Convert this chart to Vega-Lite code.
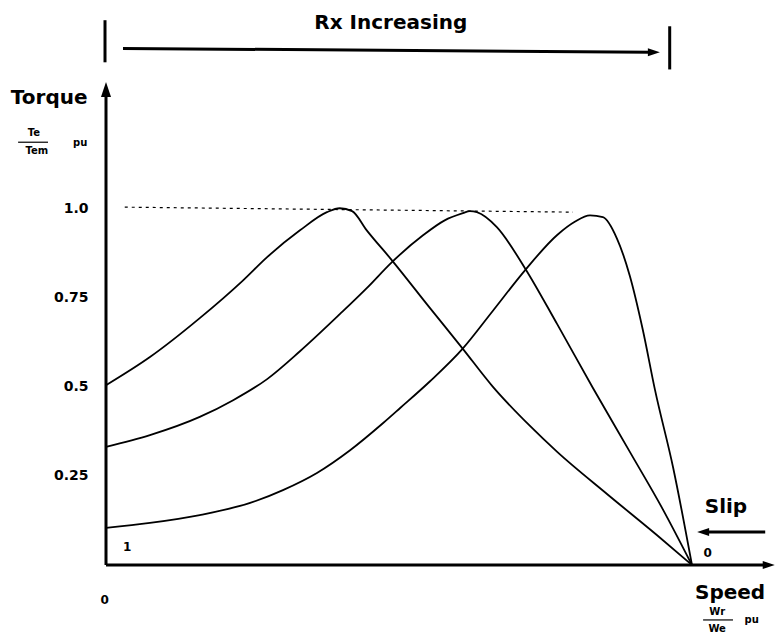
{
  "$schema": "https://vega.github.io/schema/vega-lite/v6.json",
  "width": 668,
  "height": 553,
  "autosize": {"type": "none"},
  "padding": {"left": 106, "right": 3, "top": 12, "bottom": 79},
  "background": "white",
  "config": {"view": {"stroke": null}, "axis": {"grid": false}},
  "datasets": {
    "curves": [
      {"curve": "A", "speed": 0, "torque": 0.504},
      {"curve": "A", "speed": 0.075, "torque": 0.583},
      {"curve": "A", "speed": 0.160, "torque": 0.692},
      {"curve": "A", "speed": 0.234, "torque": 0.798},
      {"curve": "A", "speed": 0.275, "torque": 0.863},
      {"curve": "A", "speed": 0.331, "torque": 0.938},
      {"curve": "A", "speed": 0.377, "torque": 0.989},
      {"curve": "A", "speed": 0.399, "torque": 1.0},
      {"curve": "A", "speed": 0.420, "torque": 0.992},
      {"curve": "A", "speed": 0.445, "torque": 0.938},
      {"curve": "A", "speed": 0.488, "torque": 0.854},
      {"curve": "A", "speed": 0.553, "torque": 0.720},
      {"curve": "A", "speed": 0.608, "torque": 0.608},
      {"curve": "A", "speed": 0.660, "torque": 0.500},
      {"curve": "A", "speed": 0.724, "torque": 0.389},
      {"curve": "A", "speed": 0.770, "torque": 0.317},
      {"curve": "A", "speed": 0.855, "torque": 0.199},
      {"curve": "A", "speed": 0.940, "torque": 0.084},
      {"curve": "A", "speed": 1.0, "torque": 0},
      {"curve": "B", "speed": 0, "torque": 0.331},
      {"curve": "B", "speed": 0.075, "torque": 0.364},
      {"curve": "B", "speed": 0.160, "torque": 0.415},
      {"curve": "B", "speed": 0.217, "torque": 0.462},
      {"curve": "B", "speed": 0.275, "torque": 0.521},
      {"curve": "B", "speed": 0.331, "torque": 0.599},
      {"curve": "B", "speed": 0.399, "torque": 0.703},
      {"curve": "B", "speed": 0.445, "torque": 0.776},
      {"curve": "B", "speed": 0.488, "torque": 0.849},
      {"curve": "B", "speed": 0.541, "torque": 0.924},
      {"curve": "B", "speed": 0.578, "torque": 0.966},
      {"curve": "B", "speed": 0.609, "torque": 0.986},
      {"curve": "B", "speed": 0.621, "torque": 0.992},
      {"curve": "B", "speed": 0.633, "torque": 0.989},
      {"curve": "B", "speed": 0.667, "torque": 0.947},
      {"curve": "B", "speed": 0.715, "torque": 0.832},
      {"curve": "B", "speed": 0.770, "torque": 0.675},
      {"curve": "B", "speed": 0.831, "torque": 0.496},
      {"curve": "B", "speed": 0.894, "torque": 0.317},
      {"curve": "B", "speed": 0.951, "torque": 0.154},
      {"curve": "B", "speed": 1.0, "torque": 0},
      {"curve": "C", "speed": 0, "torque": 0.104},
      {"curve": "C", "speed": 0.075, "torque": 0.118},
      {"curve": "C", "speed": 0.160, "torque": 0.140},
      {"curve": "C", "speed": 0.246, "torque": 0.174},
      {"curve": "C", "speed": 0.302, "torque": 0.210},
      {"curve": "C", "speed": 0.360, "torque": 0.258},
      {"curve": "C", "speed": 0.416, "torque": 0.321},
      {"curve": "C", "speed": 0.473, "torque": 0.398},
      {"curve": "C", "speed": 0.502, "torque": 0.440},
      {"curve": "C", "speed": 0.553, "torque": 0.515},
      {"curve": "C", "speed": 0.608, "torque": 0.605},
      {"curve": "C", "speed": 0.660, "torque": 0.712},
      {"curve": "C", "speed": 0.715, "torque": 0.826},
      {"curve": "C", "speed": 0.770, "torque": 0.925},
      {"curve": "C", "speed": 0.800, "torque": 0.962},
      {"curve": "C", "speed": 0.826, "torque": 0.980},
      {"curve": "C", "speed": 0.848, "torque": 0.975},
      {"curve": "C", "speed": 0.872, "torque": 0.915},
      {"curve": "C", "speed": 0.894, "torque": 0.810},
      {"curve": "C", "speed": 0.916, "torque": 0.660},
      {"curve": "C", "speed": 0.937, "torque": 0.490},
      {"curve": "C", "speed": 0.968, "torque": 0.272},
      {"curve": "C", "speed": 1.0, "torque": 0}
    ],
    "maxline": [
      {"speed": 0.032, "torque": 1.003},
      {"speed": 0.797, "torque": 0.989}
    ],
    "segs": [
      {"part": "y axis", "speed": 0, "torque": 0, "speed2": 0, "torque2": 1.315},
      {"part": "x axis", "speed": 0, "torque": 0, "speed2": 1.128, "torque2": 0},
      {"part": "rx arrow", "speed": 0.029, "torque": 1.448, "speed2": 0.93, "torque2": 1.437},
      {"part": "left bracket", "speed": -0.0017, "torque": 1.527, "speed2": -0.0017, "torque2": 1.409},
      {"part": "right bracket", "speed": 0.962, "torque": 1.510, "speed2": 0.962, "torque2": 1.389},
      {"part": "slip arrow", "speed": 1.125, "torque": 0.0924, "speed2": 1.02, "torque2": 0.0924}
    ],
    "fracbars": [
      {"part": "Te/Tem", "speed": -0.150, "torque": 1.185, "speed2": -0.099, "torque2": 1.185},
      {"part": "Wr/We", "speed": 1.019, "torque": -0.154, "speed2": 1.070, "torque2": -0.154}
    ],
    "head_up": [{"speed": 0, "torque": 1.333}],
    "head_right": [
      {"speed": 1.131, "torque": 0},
      {"speed": 0.935, "torque": 1.437}
    ],
    "head_left": [{"speed": 1.019, "torque": 0.0924}],
    "bigtext": [
      {"label": "Rx Increasing", "speed": 0.486, "torque": 1.518},
      {"label": "Torque", "speed": -0.097, "torque": 1.308},
      {"label": "Slip", "speed": 1.058, "torque": 0.162},
      {"label": "Speed", "speed": 1.065, "torque": -0.078}
    ],
    "marktext": [
      {"label": "1", "speed": 0.036, "torque": 0.050},
      {"label": "0", "speed": 1.027, "torque": 0.034}
    ],
    "smalltext": [
      {"label": "Te", "speed": -0.123, "torque": 1.210},
      {"label": "Tem", "speed": -0.118, "torque": 1.160},
      {"label": "pu", "speed": -0.044, "torque": 1.182},
      {"label": "Wr", "speed": 1.043, "torque": -0.132},
      {"label": "We", "speed": 1.043, "torque": -0.180},
      {"label": "pu", "speed": 1.102, "torque": -0.154}
    ]
  },
  "encoding": {
    "x": {"field": "speed", "type": "quantitative", "scale": {"domain": [0, 1.14], "nice": false, "zero": false},
          "axis": {"values": [0], "title": null, "domain": false, "ticks": false, "tickSize": 0, "labelPadding": 29, "labelOffset": -6,
                   "labelFont": "DejaVu Sans", "labelFontWeight": "bold", "labelFontSize": 12, "labelColor": "black"}},
    "y": {"field": "torque", "type": "quantitative", "scale": {"domain": [0, 1.55], "nice": false, "zero": false},
          "axis": {"values": [0.25, 0.5, 0.75, 1], "title": null, "domain": false, "ticks": false, "tickSize": 0, "labelPadding": 18,
                   "labelExpr": "datum.value == 1 ? '1.0' : format(datum.value, '.2~f')",
                   "labelFont": "DejaVu Sans", "labelFontWeight": "bold", "labelFontSize": 14, "labelColor": "black"}}
  },
  "layer": [
    {
      "data": {"name": "curves"},
      "mark": {"type": "line", "color": "black", "strokeWidth": 1.8, "interpolate": "monotone"},
      "encoding": {"detail": {"field": "curve"}}
    },
    {
      "data": {"name": "maxline"},
      "mark": {"type": "line", "color": "black", "strokeWidth": 1.2, "strokeDash": [3, 4]},
      "encoding": {}
    },
    {
      "data": {"name": "segs"},
      "mark": {"type": "rule", "color": "black", "strokeWidth": 3},
      "encoding": {"x2": {"field": "speed2"}, "y2": {"field": "torque2"}}
    },
    {
      "data": {"name": "fracbars"},
      "mark": {"type": "rule", "color": "black", "strokeWidth": 1.2},
      "encoding": {"x2": {"field": "speed2"}, "y2": {"field": "torque2"}}
    },
    {
      "data": {"name": "head_up"},
      "mark": {"type": "point", "shape": "M0,-1L0.67,1L-0.67,1Z", "filled": true, "color": "black", "opacity": 1, "size": 225}
    },
    {
      "data": {"name": "head_right"},
      "mark": {"type": "point", "shape": "M1,0L-1,-0.67L-1,0.67Z", "filled": true, "color": "black", "opacity": 1, "size": 144}
    },
    {
      "data": {"name": "head_left"},
      "mark": {"type": "point", "shape": "M-1,0L1,-0.67L1,0.67Z", "filled": true, "color": "black", "opacity": 1, "size": 144}
    },
    {
      "data": {"name": "bigtext"},
      "mark": {"type": "text", "font": "DejaVu Sans", "fontSize": 20, "fontWeight": "bold", "color": "black"},
      "encoding": {"text": {"field": "label"}}
    },
    {
      "data": {"name": "marktext"},
      "mark": {"type": "text", "font": "DejaVu Sans", "fontSize": 12, "fontWeight": "bold", "color": "black"},
      "encoding": {"text": {"field": "label"}}
    },
    {
      "data": {"name": "smalltext"},
      "mark": {"type": "text", "font": "DejaVu Sans", "fontSize": 10, "fontWeight": "bold", "color": "black"},
      "encoding": {"text": {"field": "label"}}
    }
  ]
}
